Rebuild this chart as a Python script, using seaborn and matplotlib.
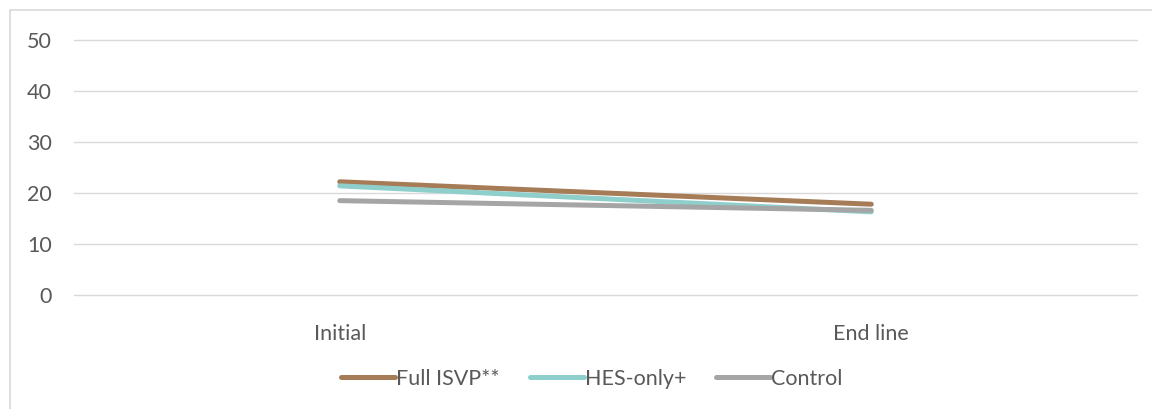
import matplotlib
matplotlib.use("Agg")
import matplotlib.pyplot as plt
import seaborn as sns
import pandas as pd
from matplotlib.lines import Line2D

categories = ["Initial", "End line"]
full_isvp = [22.2, 17.8]
hes_only = [21.4, 16.3]
control = [18.5, 16.6]
series_names = ["Full ISVP**", "HES-only+", "Control"]
colors = ["#A67C57", "#8ECFCB", "#A5A5A5"]

rows = []
for name, vals in zip(series_names, [full_isvp, hes_only, control]):
    for i, (c, v) in enumerate(zip(categories, vals)):
        rows.append({"pos": i, "cat": c, "value": v, "series": name})
df = pd.DataFrame(rows)

sns.set_theme(style="white")
plt.rcParams["font.family"] = ["Lato", "DejaVu Sans"]
text_color = "#595959"
fs = 15.5

fig = plt.figure(figsize=(11.52, 4.09), dpi=100)
ax = fig.add_axes([74/1152, 1-295/409, (1137-74)/1152, (295-40)/409])

sns.lineplot(data=df, x="pos", y="value", hue="series", hue_order=series_names,
             palette=colors, linewidth=3.6, ax=ax, legend=True,
             solid_capstyle="round")

ax.set_xlim(-0.5, 1.5)
ax.set_ylim(0, 50)
ax.set_yticks([0, 10, 20, 30, 40, 50])
ax.set_xticks([0, 1])
ax.set_xticklabels(categories)
ax.grid(axis="y", color="#D9D9D9", linewidth=1)
for gl in ax.get_ygridlines():
    gl.set_clip_on(False)
ax.set_axisbelow(True)
for s in ["top", "right", "left", "bottom"]:
    ax.spines[s].set_visible(False)
ax.tick_params(axis="y", length=0, labelsize=fs, colors=text_color, pad=16)
ax.tick_params(axis="x", length=0, labelsize=fs, colors=text_color, pad=21)
ax.set_xlabel("")
ax.set_ylabel("")

handles, labels = ax.get_legend_handles_labels()
ax.legend(handles, labels, loc="center", bbox_to_anchor=(592/1152, 1-379/409),
          bbox_transform=fig.transFigure, ncol=3, frameon=False, fontsize=fs,
          labelcolor=text_color, handlelength=2.5, handletextpad=0.05,
          columnspacing=1.4)

fig.add_artist(Line2D([10/1152, 10/1152], [0, 1-10/409], transform=fig.transFigure,
                      color="#D9D9D9", linewidth=1.2))
fig.add_artist(Line2D([10/1152, 1], [1-10/409, 1-10/409], transform=fig.transFigure,
                      color="#D9D9D9", linewidth=1.2))

fig.savefig("out.png", dpi=100, facecolor="white")
